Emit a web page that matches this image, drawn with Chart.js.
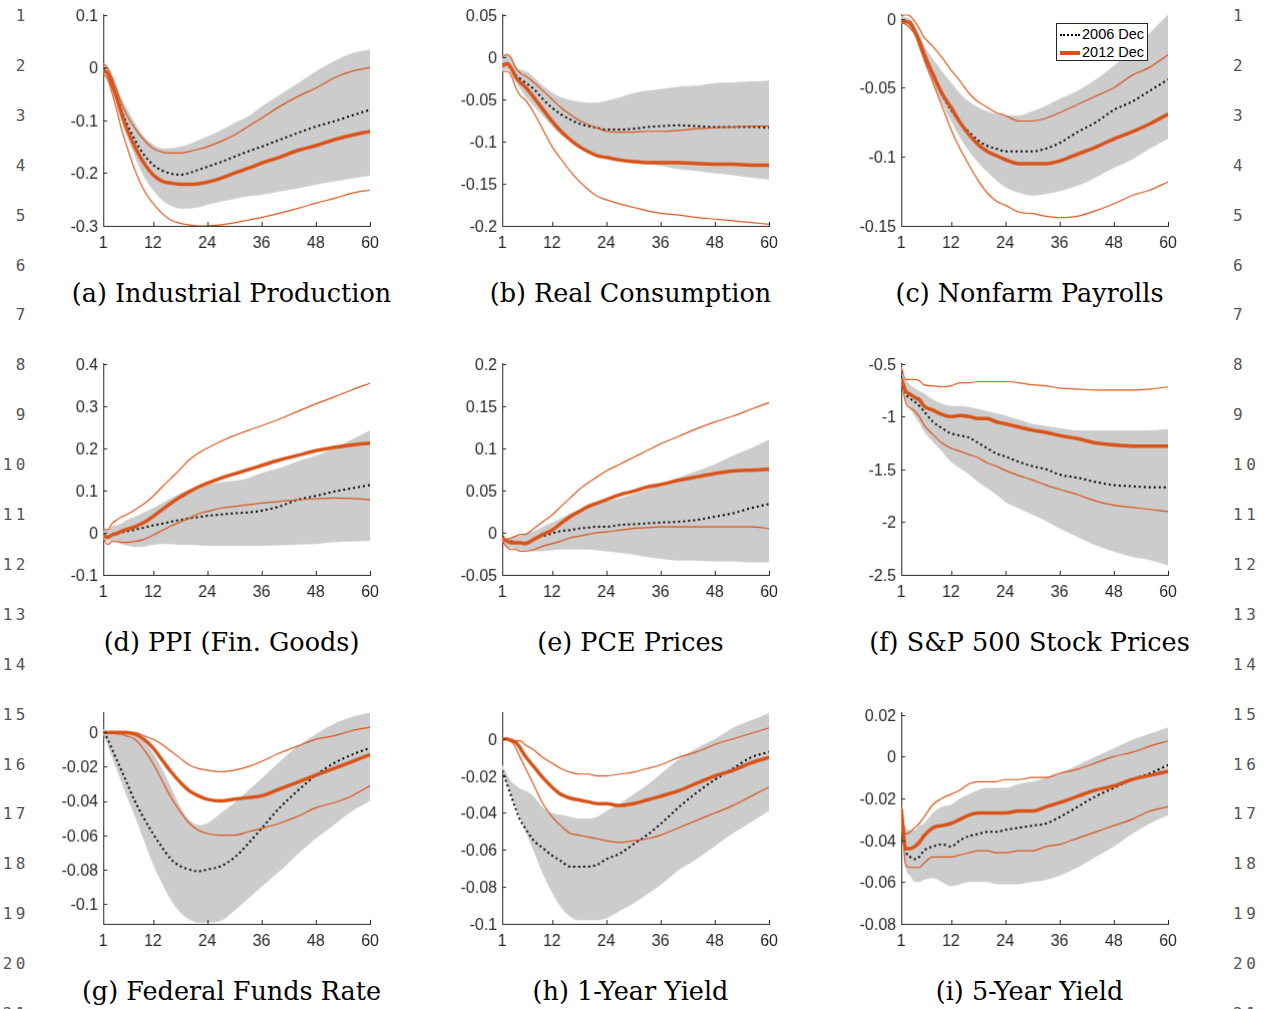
<!DOCTYPE html>
<html>
<head>
<meta charset="utf-8">
<script src="https://cdn.jsdelivr.net/npm/chart.js@4.4.1/dist/chart.umd.min.js"></script>
<style>
  body { margin: 0; background: #fff; width: 1270px; height: 1009px; overflow: hidden; position: relative; }
  canvas.panel { position: absolute; }
  .caption { position: absolute; width: 420px; text-align: center; font-family: 'DejaVu Serif', serif; font-size: 25.5px; line-height: 30px; color: #000; white-space: nowrap; }
  .lineno { position: absolute; font-family: 'DejaVu Sans Mono', monospace; font-size: 16px; line-height: 20px; color: #555; letter-spacing: 3.5px; }
  .lineno.left { left: 0; width: 29px; text-align: right; }
  .lineno.right { left: 1233px; }
  .legend { position: absolute; left: 1056px; top: 23px; width: 90px; height: 36px; border: 1px solid #262626; background: #fff; font-family: 'Liberation Sans', Arial, sans-serif; font-size: 14.5px; color: #000; }
  .legend .row { position: absolute; left: 3px; height: 18px; line-height: 18px; white-space: nowrap; }
  .legend .swatch { display: inline-block; width: 20px; vertical-align: middle; margin-right: 2px; }
</style>
</head>
<body>
<script>
// horizon (months) shared by every panel
const months = [1, 2, 3, 4, 5, 6, 8, 10, 12, 14, 16, 18, 20, 22, 24, 27, 30, 33, 36, 40, 44, 48, 52, 56, 60];
const xTicks = [1, 12, 24, 36, 48, 60];

// (a) Industrial Production
const ipBandHi = [0.002, -0.001, -0.014, -0.036, -0.058, -0.074, -0.105, -0.131, -0.146, -0.153, -0.153, -0.150, -0.145, -0.138, -0.131, -0.119, -0.105, -0.093, -0.074, -0.052, -0.030, -0.007, 0.012, 0.027, 0.034];
const ipBandLo = [-0.007, -0.017, -0.039, -0.067, -0.099, -0.124, -0.169, -0.207, -0.232, -0.251, -0.262, -0.267, -0.267, -0.265, -0.260, -0.254, -0.249, -0.244, -0.241, -0.235, -0.229, -0.222, -0.216, -0.210, -0.205];
const ip2006 = [-0.001, -0.011, -0.033, -0.055, -0.080, -0.102, -0.137, -0.165, -0.184, -0.195, -0.201, -0.203, -0.200, -0.194, -0.188, -0.179, -0.169, -0.159, -0.150, -0.137, -0.124, -0.112, -0.102, -0.091, -0.080];
const ip2012 = [-0.004, -0.012, -0.033, -0.058, -0.086, -0.112, -0.150, -0.181, -0.203, -0.215, -0.219, -0.221, -0.221, -0.220, -0.217, -0.210, -0.200, -0.191, -0.181, -0.170, -0.157, -0.148, -0.137, -0.128, -0.121];
const ip2012Hi = [0.008, -0.001, -0.020, -0.042, -0.067, -0.086, -0.115, -0.137, -0.153, -0.160, -0.162, -0.162, -0.159, -0.155, -0.150, -0.140, -0.128, -0.112, -0.096, -0.074, -0.055, -0.039, -0.020, -0.007, 0.000];
const ip2012Lo = [-0.011, -0.023, -0.049, -0.080, -0.115, -0.143, -0.194, -0.232, -0.257, -0.276, -0.289, -0.295, -0.298, -0.300, -0.300, -0.298, -0.294, -0.289, -0.284, -0.276, -0.267, -0.257, -0.248, -0.238, -0.232];

// (b) Real Consumption
const rcBandHi = [0.001, 0.002, -0.001, -0.011, -0.015, -0.016, -0.024, -0.034, -0.042, -0.048, -0.051, -0.053, -0.054, -0.054, -0.052, -0.048, -0.043, -0.040, -0.038, -0.035, -0.034, -0.031, -0.030, -0.029, -0.028];
const rcBandLo = [-0.017, -0.015, -0.020, -0.030, -0.038, -0.046, -0.058, -0.070, -0.082, -0.092, -0.100, -0.106, -0.112, -0.116, -0.119, -0.123, -0.125, -0.127, -0.129, -0.133, -0.135, -0.138, -0.140, -0.143, -0.145];
const rc2006 = [-0.009, -0.007, -0.013, -0.022, -0.026, -0.030, -0.038, -0.050, -0.060, -0.068, -0.074, -0.079, -0.082, -0.084, -0.086, -0.086, -0.085, -0.083, -0.082, -0.081, -0.082, -0.083, -0.083, -0.083, -0.084];
const rc2012 = [-0.011, -0.008, -0.013, -0.024, -0.030, -0.035, -0.048, -0.062, -0.076, -0.088, -0.098, -0.106, -0.112, -0.117, -0.119, -0.122, -0.124, -0.125, -0.125, -0.125, -0.126, -0.127, -0.127, -0.128, -0.128];
const rc2012Hi = [-0.001, 0.003, -0.001, -0.013, -0.019, -0.022, -0.030, -0.040, -0.050, -0.060, -0.068, -0.075, -0.080, -0.084, -0.088, -0.089, -0.089, -0.088, -0.088, -0.087, -0.085, -0.084, -0.083, -0.082, -0.082];
const rc2012Lo = [-0.018, -0.017, -0.022, -0.036, -0.046, -0.050, -0.066, -0.086, -0.106, -0.121, -0.135, -0.147, -0.157, -0.165, -0.169, -0.174, -0.178, -0.182, -0.185, -0.187, -0.190, -0.192, -0.194, -0.196, -0.198];

// (c) Nonfarm Payrolls
const npBandHi = [0.002, 0.001, 0.000, -0.005, -0.011, -0.019, -0.029, -0.038, -0.046, -0.054, -0.060, -0.064, -0.067, -0.069, -0.070, -0.070, -0.067, -0.063, -0.058, -0.052, -0.044, -0.034, -0.023, -0.010, 0.003];
const npBandLo = [-0.003, -0.004, -0.007, -0.013, -0.021, -0.031, -0.046, -0.061, -0.074, -0.086, -0.096, -0.104, -0.111, -0.117, -0.122, -0.126, -0.128, -0.127, -0.125, -0.121, -0.115, -0.108, -0.102, -0.094, -0.087];
const np2006 = [-0.002, -0.002, -0.004, -0.010, -0.017, -0.026, -0.041, -0.055, -0.066, -0.075, -0.082, -0.088, -0.092, -0.094, -0.096, -0.096, -0.096, -0.094, -0.090, -0.082, -0.075, -0.066, -0.060, -0.052, -0.044];
const np2012 = [-0.002, -0.002, -0.003, -0.009, -0.016, -0.025, -0.040, -0.054, -0.064, -0.075, -0.084, -0.091, -0.096, -0.099, -0.102, -0.105, -0.105, -0.105, -0.103, -0.098, -0.093, -0.087, -0.082, -0.076, -0.069];
const np2012Hi = [0.002, 0.003, 0.002, -0.002, -0.007, -0.013, -0.020, -0.028, -0.037, -0.045, -0.054, -0.060, -0.064, -0.068, -0.070, -0.074, -0.074, -0.072, -0.068, -0.062, -0.056, -0.050, -0.041, -0.035, -0.026];
const np2012Lo = [-0.003, -0.004, -0.007, -0.011, -0.020, -0.029, -0.046, -0.063, -0.080, -0.094, -0.106, -0.117, -0.126, -0.132, -0.135, -0.140, -0.141, -0.143, -0.144, -0.143, -0.139, -0.134, -0.128, -0.124, -0.118];

// (d) PPI (Fin. Goods)
const ppBandHi = [0.003, 0.007, 0.015, 0.018, 0.022, 0.029, 0.038, 0.048, 0.058, 0.070, 0.082, 0.093, 0.101, 0.108, 0.113, 0.120, 0.123, 0.129, 0.141, 0.153, 0.169, 0.182, 0.200, 0.221, 0.242];
const ppBandLo = [-0.009, -0.021, -0.021, -0.023, -0.027, -0.030, -0.034, -0.033, -0.029, -0.027, -0.027, -0.029, -0.029, -0.030, -0.031, -0.031, -0.031, -0.031, -0.031, -0.030, -0.028, -0.027, -0.023, -0.021, -0.019];
const pp2006 = [-0.004, -0.009, -0.006, -0.003, 0.000, 0.003, 0.007, 0.012, 0.017, 0.021, 0.026, 0.030, 0.034, 0.037, 0.040, 0.043, 0.046, 0.048, 0.052, 0.062, 0.078, 0.087, 0.097, 0.105, 0.113];
const pp2012 = [-0.005, -0.011, -0.005, -0.002, 0.003, 0.007, 0.014, 0.024, 0.038, 0.054, 0.070, 0.084, 0.097, 0.108, 0.117, 0.129, 0.139, 0.149, 0.159, 0.172, 0.183, 0.194, 0.202, 0.208, 0.212];
const pp2012Hi = [0.007, 0.007, 0.022, 0.030, 0.037, 0.042, 0.054, 0.068, 0.086, 0.108, 0.129, 0.150, 0.172, 0.188, 0.200, 0.216, 0.230, 0.242, 0.253, 0.269, 0.287, 0.305, 0.321, 0.338, 0.354];
const pp2012Lo = [-0.013, -0.028, -0.021, -0.021, -0.023, -0.023, -0.021, -0.016, -0.006, 0.005, 0.016, 0.025, 0.034, 0.045, 0.050, 0.058, 0.062, 0.066, 0.070, 0.074, 0.078, 0.080, 0.082, 0.081, 0.078];

// (e) PCE Prices
const pcBandHi = [-0.004, -0.008, -0.006, -0.004, -0.004, -0.002, 0.002, 0.007, 0.012, 0.017, 0.023, 0.027, 0.031, 0.034, 0.037, 0.041, 0.046, 0.051, 0.057, 0.065, 0.073, 0.081, 0.091, 0.100, 0.110];
const pcBandLo = [-0.010, -0.016, -0.018, -0.020, -0.020, -0.021, -0.022, -0.022, -0.021, -0.020, -0.020, -0.020, -0.020, -0.021, -0.022, -0.024, -0.026, -0.029, -0.031, -0.033, -0.033, -0.034, -0.034, -0.035, -0.035];
const pc2006 = [-0.004, -0.008, -0.010, -0.012, -0.012, -0.013, -0.008, -0.004, -0.001, 0.002, 0.003, 0.005, 0.006, 0.007, 0.007, 0.009, 0.010, 0.011, 0.012, 0.013, 0.015, 0.019, 0.023, 0.029, 0.034];
const pc2012 = [-0.006, -0.010, -0.012, -0.012, -0.012, -0.013, -0.008, -0.002, 0.003, 0.011, 0.019, 0.025, 0.031, 0.035, 0.039, 0.045, 0.049, 0.054, 0.057, 0.062, 0.066, 0.070, 0.073, 0.074, 0.075];
const pc2012Hi = [-0.006, -0.008, -0.006, -0.004, -0.002, -0.002, 0.005, 0.013, 0.021, 0.031, 0.041, 0.051, 0.059, 0.066, 0.073, 0.081, 0.089, 0.097, 0.105, 0.114, 0.123, 0.131, 0.138, 0.146, 0.154];
const pc2012Lo = [-0.010, -0.017, -0.020, -0.020, -0.022, -0.022, -0.020, -0.016, -0.013, -0.010, -0.006, -0.004, -0.002, 0.000, 0.001, 0.003, 0.005, 0.006, 0.007, 0.007, 0.007, 0.007, 0.007, 0.007, 0.005];

// (f) S&P 500 Stock Prices
const spBandHi = [-0.62, -0.65, -0.70, -0.73, -0.76, -0.78, -0.84, -0.88, -0.90, -0.90, -0.91, -0.93, -0.95, -0.97, -0.99, -1.03, -1.07, -1.09, -1.11, -1.13, -1.13, -1.13, -1.13, -1.13, -1.12];
const spBandLo = [-0.65, -0.84, -0.92, -1.00, -1.06, -1.14, -1.24, -1.33, -1.43, -1.49, -1.55, -1.62, -1.68, -1.74, -1.81, -1.87, -1.93, -1.99, -2.06, -2.14, -2.22, -2.28, -2.33, -2.36, -2.41];
const sp2006 = [-0.62, -0.78, -0.83, -0.86, -0.90, -0.95, -1.05, -1.11, -1.16, -1.18, -1.20, -1.25, -1.30, -1.35, -1.38, -1.43, -1.47, -1.50, -1.55, -1.58, -1.62, -1.65, -1.66, -1.67, -1.67];
const sp2012 = [-0.64, -0.76, -0.79, -0.82, -0.84, -0.90, -0.94, -0.98, -1.00, -0.99, -1.00, -1.02, -1.02, -1.05, -1.07, -1.10, -1.13, -1.15, -1.18, -1.21, -1.25, -1.27, -1.28, -1.28, -1.28];
const sp2012Hi = [-0.53, -0.65, -0.65, -0.65, -0.66, -0.70, -0.71, -0.72, -0.71, -0.68, -0.68, -0.67, -0.67, -0.67, -0.67, -0.68, -0.70, -0.71, -0.73, -0.74, -0.75, -0.75, -0.75, -0.74, -0.72];
const sp2012Lo = [-0.64, -0.87, -0.92, -0.95, -1.00, -1.08, -1.17, -1.25, -1.30, -1.33, -1.36, -1.39, -1.44, -1.47, -1.51, -1.56, -1.60, -1.65, -1.69, -1.74, -1.80, -1.84, -1.86, -1.88, -1.90];

// (g) Federal Funds Rate
const ffBandHi = [0.002, 0.000, 0.000, 0.000, 0.000, 0.000, -0.001, -0.005, -0.012, -0.021, -0.032, -0.043, -0.051, -0.054, -0.053, -0.047, -0.041, -0.034, -0.027, -0.017, -0.008, -0.001, 0.005, 0.009, 0.0115];
const ffBandLo = [-0.001, -0.008, -0.015, -0.022, -0.029, -0.036, -0.049, -0.063, -0.077, -0.088, -0.098, -0.105, -0.109, -0.111, -0.111, -0.110, -0.104, -0.097, -0.090, -0.081, -0.071, -0.062, -0.054, -0.046, -0.040];
const ff2006 = [0.000, -0.004, -0.010, -0.016, -0.022, -0.028, -0.040, -0.050, -0.059, -0.067, -0.074, -0.078, -0.080, -0.081, -0.080, -0.078, -0.073, -0.065, -0.056, -0.044, -0.034, -0.025, -0.018, -0.013, -0.009];
const ff2012 = [0.000, 0.000, 0.000, 0.000, 0.000, 0.000, -0.001, -0.004, -0.009, -0.016, -0.023, -0.029, -0.034, -0.037, -0.039, -0.040, -0.039, -0.038, -0.037, -0.033, -0.029, -0.025, -0.021, -0.017, -0.013];
const ff2012Hi = [0.000, 0.000, 0.000, 0.000, 0.000, 0.000, 0.000, -0.002, -0.004, -0.007, -0.011, -0.015, -0.019, -0.021, -0.022, -0.023, -0.022, -0.020, -0.017, -0.012, -0.008, -0.004, -0.002, 0.001, 0.003];
const ff2012Lo = [0.000, 0.000, 0.000, -0.001, -0.001, -0.002, -0.004, -0.010, -0.018, -0.028, -0.038, -0.046, -0.053, -0.057, -0.059, -0.060, -0.060, -0.058, -0.056, -0.053, -0.049, -0.044, -0.041, -0.037, -0.031];

// (h) 1-Year Yield
const oyBandHi = [-0.014, -0.019, -0.023, -0.025, -0.027, -0.028, -0.031, -0.037, -0.040, -0.041, -0.042, -0.043, -0.043, -0.042, -0.039, -0.035, -0.030, -0.025, -0.019, -0.011, -0.005, 0.000, 0.006, 0.010, 0.014];
const oyBandLo = [-0.017, -0.024, -0.030, -0.037, -0.043, -0.049, -0.061, -0.073, -0.083, -0.091, -0.096, -0.098, -0.098, -0.098, -0.097, -0.093, -0.089, -0.084, -0.079, -0.071, -0.065, -0.058, -0.051, -0.045, -0.039];
const oy2006 = [-0.017, -0.024, -0.031, -0.038, -0.044, -0.048, -0.055, -0.059, -0.063, -0.066, -0.069, -0.069, -0.069, -0.068, -0.065, -0.062, -0.057, -0.052, -0.046, -0.037, -0.029, -0.022, -0.016, -0.010, -0.007];
const oy2012 = [0.000, 0.000, -0.001, -0.002, -0.005, -0.009, -0.015, -0.021, -0.026, -0.030, -0.032, -0.033, -0.034, -0.035, -0.035, -0.036, -0.035, -0.033, -0.031, -0.028, -0.024, -0.020, -0.017, -0.013, -0.010];
const oy2012Hi = [0.000, 0.000, 0.000, -0.001, -0.001, -0.003, -0.006, -0.010, -0.013, -0.016, -0.018, -0.019, -0.019, -0.020, -0.020, -0.019, -0.018, -0.016, -0.014, -0.010, -0.007, -0.003, 0.000, 0.003, 0.006];
const oy2012Lo = [0.000, 0.000, -0.001, -0.005, -0.010, -0.015, -0.025, -0.035, -0.042, -0.047, -0.051, -0.052, -0.053, -0.054, -0.055, -0.056, -0.055, -0.054, -0.052, -0.048, -0.044, -0.040, -0.036, -0.031, -0.026];

// (i) 5-Year Yield
const fyBandHi = [-0.027, -0.034, -0.035, -0.035, -0.033, -0.032, -0.027, -0.024, -0.023, -0.020, -0.018, -0.016, -0.015, -0.015, -0.015, -0.013, -0.012, -0.010, -0.008, -0.004, 0.000, 0.004, 0.008, 0.011, 0.014];
const fyBandLo = [-0.029, -0.053, -0.057, -0.060, -0.060, -0.059, -0.058, -0.060, -0.062, -0.061, -0.060, -0.060, -0.060, -0.061, -0.061, -0.061, -0.060, -0.059, -0.057, -0.053, -0.048, -0.043, -0.037, -0.032, -0.028];
const fy2006 = [-0.027, -0.045, -0.048, -0.049, -0.048, -0.045, -0.043, -0.042, -0.043, -0.040, -0.038, -0.037, -0.036, -0.036, -0.035, -0.034, -0.033, -0.032, -0.029, -0.024, -0.019, -0.015, -0.011, -0.008, -0.004];
const fy2012 = [-0.025, -0.044, -0.044, -0.043, -0.041, -0.038, -0.034, -0.033, -0.032, -0.030, -0.028, -0.027, -0.027, -0.027, -0.027, -0.026, -0.026, -0.024, -0.022, -0.019, -0.016, -0.014, -0.011, -0.009, -0.007];
const fy2012Hi = [-0.024, -0.037, -0.036, -0.034, -0.032, -0.029, -0.023, -0.020, -0.018, -0.016, -0.013, -0.012, -0.012, -0.012, -0.011, -0.011, -0.010, -0.010, -0.008, -0.006, -0.003, 0.000, 0.002, 0.005, 0.0075];
const fy2012Lo = [-0.025, -0.052, -0.053, -0.053, -0.053, -0.051, -0.048, -0.048, -0.048, -0.047, -0.046, -0.045, -0.045, -0.046, -0.046, -0.045, -0.045, -0.043, -0.042, -0.039, -0.036, -0.033, -0.030, -0.026, -0.024];

// y tick labels per panel
const ipTicks = [0.1, 0, -0.1, -0.2, -0.3];
const rcTicks = [0.05, 0, -0.05, -0.1, -0.15, -0.2];
const npTicks = [0, -0.05, -0.1, -0.15];
const ppTicks = [0.4, 0.3, 0.2, 0.1, 0, -0.1];
const pcTicks = [0.2, 0.15, 0.1, 0.05, 0, -0.05];
const spTicks = [-0.5, -1, -1.5, -2, -2.5];
const ffTicks = [0, -0.02, -0.04, -0.06, -0.08, -0.1];
const oyTicks = [0, -0.02, -0.04, -0.06, -0.08, -0.1];
const fyTicks = [0.02, 0, -0.02, -0.04, -0.06, -0.08];

const captions = ['(a) Industrial Production', '(b) Real Consumption', '(c) Nonfarm Payrolls',
  '(d) PPI (Fin. Goods)', '(e) PCE Prices', '(f) S&P 500 Stock Prices',
  '(g) Federal Funds Rate', '(h) 1-Year Yield', '(i) 5-Year Yield'];

// colours
const orange = '#D95319';
const bandGray = '#CCCCCC';
const axisColor = '#262626';

// layout of the 3x3 grid
const colLeft = [103, 502, 901];
const rowTop = [15, 364, 713];
const plotW = 267, plotH = 211;
const captionY = [293, 642, 991];
const captionX = [231.5, 630.5, 1029.5];

const panels = [
  { min: -0.3, max: 0.1, ticks: ipTicks, hi: ipBandHi, lo: ipBandLo, old: ip2006, cur: ip2012, curHi: ip2012Hi, curLo: ip2012Lo },
  { min: -0.2, max: 0.05, ticks: rcTicks, hi: rcBandHi, lo: rcBandLo, old: rc2006, cur: rc2012, curHi: rc2012Hi, curLo: rc2012Lo },
  { min: -0.15, max: 0.003, ticks: npTicks, hi: npBandHi, lo: npBandLo, old: np2006, cur: np2012, curHi: np2012Hi, curLo: np2012Lo },
  { min: -0.1, max: 0.4, ticks: ppTicks, hi: ppBandHi, lo: ppBandLo, old: pp2006, cur: pp2012, curHi: pp2012Hi, curLo: pp2012Lo },
  { min: -0.05, max: 0.2, ticks: pcTicks, hi: pcBandHi, lo: pcBandLo, old: pc2006, cur: pc2012, curHi: pc2012Hi, curLo: pc2012Lo },
  { min: -2.5, max: -0.5, ticks: spTicks, hi: spBandHi, lo: spBandLo, old: sp2006, cur: sp2012, curHi: sp2012Hi, curLo: sp2012Lo },
  { min: -0.1117, max: 0.0115, ticks: ffTicks, hi: ffBandHi, lo: ffBandLo, old: ff2006, cur: ff2012, curHi: ff2012Hi, curLo: ff2012Lo },
  { min: -0.1, max: 0.0142, ticks: oyTicks, hi: oyBandHi, lo: oyBandLo, old: oy2006, cur: oy2012, curHi: oy2012Hi, curLo: oy2012Lo },
  { min: -0.08, max: 0.021, ticks: fyTicks, hi: fyBandHi, lo: fyBandLo, old: fy2006, cur: fy2012, curHi: fy2012Hi, curLo: fy2012Lo }
];

const tickFont = { family: "'Liberation Sans', Arial, sans-serif", size: 16 };
const PAD_L = 6, Y_W = 64, PAD_T = 12, PAD_R = 14, X_H = 31, PAD_B = 2;

// MATLAB-style tick marks pointing into the axes
const inwardTicks = {
  id: 'inwardTicks',
  afterDatasetsDraw(chart) {
    const { ctx, chartArea, scales } = chart;
    ctx.save();
    ctx.strokeStyle = axisColor;
    ctx.lineWidth = 1;
    scales.x.ticks.forEach(t => {
      const px = Math.round(scales.x.getPixelForValue(t.value)) + 0.5;
      ctx.beginPath();
      ctx.moveTo(px, chartArea.bottom);
      ctx.lineTo(px, chartArea.bottom - 4);
      ctx.stroke();
    });
    scales.y.ticks.forEach(t => {
      const py = Math.round(scales.y.getPixelForValue(t.value)) + 0.5;
      ctx.beginPath();
      ctx.moveTo(chartArea.left, py);
      ctx.lineTo(chartArea.left + 4, py);
      ctx.stroke();
    });
    ctx.restore();
  }
};

const pts = arr => months.map((m, i) => ({ x: m, y: arr[i] }));

function buildConfig(p) {
  const line = { pointRadius: 0, fill: false, cubicInterpolationMode: 'monotone' };
  return {
    type: 'line',
    data: {
      datasets: [
        { ...line, data: pts(p.cur), borderColor: orange, borderWidth: 3.5 },
        { ...line, data: pts(p.curHi), borderColor: orange, borderWidth: 1.2 },
        { ...line, data: pts(p.curLo), borderColor: orange, borderWidth: 1.2 },
        { ...line, data: pts(p.old), borderColor: '#000', borderWidth: 2, borderDash: [2, 3] },
        { ...line, data: pts(p.hi), borderColor: 'transparent', borderWidth: 0, fill: '+1', backgroundColor: bandGray },
        { ...line, data: pts(p.lo), borderColor: 'transparent', borderWidth: 0 }
      ]
    },
    options: {
      responsive: false,
      animation: false,
      layout: { padding: { left: PAD_L, right: PAD_R, top: PAD_T, bottom: PAD_B } },
      plugins: { legend: { display: false }, tooltip: { enabled: false } },
      scales: {
        x: {
          type: 'linear', min: 1, max: 60,
          afterBuildTicks: s => { s.ticks = xTicks.map(v => ({ value: v })); },
          afterFit: s => { s.height = X_H; },
          grid: { display: false, drawTicks: false },
          border: { display: true, color: axisColor, width: 1 },
          ticks: { color: axisColor, font: tickFont, padding: 8, maxRotation: 0, autoSkip: false }
        },
        y: {
          min: p.min, max: p.max,
          afterBuildTicks: s => { s.ticks = p.ticks.map(v => ({ value: v })); },
          afterFit: s => { s.width = Y_W; },
          grid: { display: false, drawTicks: false },
          border: { display: true, color: axisColor, width: 1 },
          ticks: { color: axisColor, font: tickFont, padding: 5, labelOffset: 1.5, autoSkip: false, callback: v => String(+v.toFixed(4)) }
        }
      }
    },
    plugins: [inwardTicks]
  };
}

function setCanvasSize(canvas, w, h) {
  canvas.width = w;
  canvas.height = h;
  canvas.style.width = w + 'px';
  canvas.style.height = h + 'px';
}

function makePanel(p, idx) {
  const col = idx % 3, row = Math.floor(idx / 3);
  const canvas = document.createElement('canvas');
  canvas.className = 'panel';
  document.body.appendChild(canvas);

  // first pass: measure the plot area Chart.js gives, then size the canvas so it is exactly plotW x plotH
  let w = PAD_L + Y_W + plotW + PAD_R;
  let h = PAD_T + plotH + X_H + PAD_B;
  setCanvasSize(canvas, w, h);
  let chart = new Chart(canvas.getContext('2d'), buildConfig(p));
  let ca = chart.chartArea;
  const dw = plotW - (ca.right - ca.left);
  const dh = plotH - (ca.bottom - ca.top);
  if (dw !== 0 || dh !== 0) {
    chart.destroy();
    w += dw;
    h += dh;
    setCanvasSize(canvas, w, h);
    chart = new Chart(canvas.getContext('2d'), buildConfig(p));
    ca = chart.chartArea;
  }
  canvas.style.left = (colLeft[col] - ca.left) + 'px';
  canvas.style.top = (rowTop[row] - ca.top) + 'px';

  const cap = document.createElement('div');
  cap.className = 'caption';
  cap.textContent = captions[idx];
  cap.style.left = (captionX[col] - 210) + 'px';
  cap.style.top = (captionY[row] - 15) + 'px';
  document.body.appendChild(cap);
}

panels.forEach(makePanel);

// line numbers in both margins
for (let i = 1; i <= 21; i++) {
  const y = 16 + (i - 1) * 49.9 - 10;
  ['left', 'right'].forEach(side => {
    const d = document.createElement('div');
    d.className = 'lineno ' + side;
    d.style.top = y + 'px';
    d.textContent = i;
    document.body.appendChild(d);
  });
}

// legend of panel (c)
const legend = document.createElement('div');
legend.className = 'legend';
legend.innerHTML =
  '<div class="row" style="top:1px"><span class="swatch" style="border-top:2px dotted #000"></span>2006 Dec</div>' +
  '<div class="row" style="top:19px"><span class="swatch" style="border-top:4px solid ' + orange + '"></span>2012 Dec</div>';
document.body.appendChild(legend);
</script>
</body>
</html>
